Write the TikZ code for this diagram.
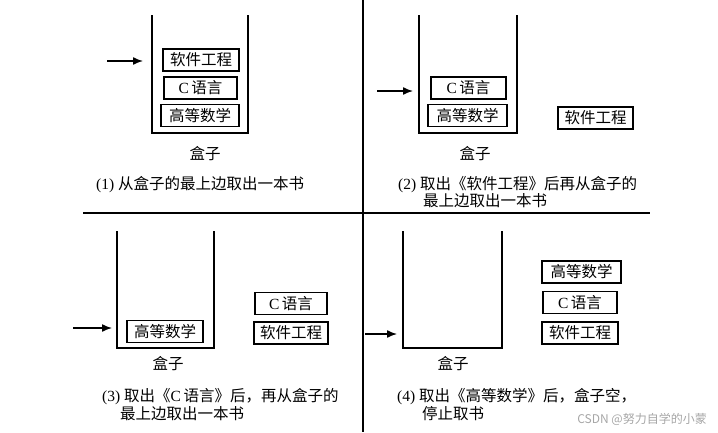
\documentclass[tikz,border=0pt]{standalone}
\usepackage{fontspec}
\setmainfont{Liberation Serif}
\newfontfamily\cjk{Noto Sans CJK SC}
\usetikzlibrary{arrows.meta, positioning}

\begin{document}
\begin{tikzpicture}[
		x=1pt, y=-1pt,
		every node/.style={font=\fontsize{15.5}{15.5}\selectfont},
		book/.style={draw, line width=1.8pt, minimum width=76pt, minimum height=22pt, inner sep=0pt},
		boxline/.style={line width=1.3pt},
		divider/.style={line width=1.7pt},
		pointer/.style={-{Latex[length=10pt, width=8pt]}, line width=1.4pt},
		caption/.style={anchor=west, inner sep=0pt},
		boxname/.style={inner sep=0pt}
	]
	\useasboundingbox (0,0) rectangle (718,432);
	% dividers
	\draw[divider] (83,213) -- (650,213);
	\draw[line width=1.4pt] (363,0) -- (363,432);

	% (1)
	\draw[boxline] (152,15) |- (248,133) -- (248,15);
	\node[book] (se1) at (201,60) {\cjk 软件工程};
	\node[book, line width=2.6pt, minimum width=73pt] (cl1) at (200.5,88) {C\,{\cjk 语言}};
	\node[book, minimum width=78pt] (ma1) at (200,115.5) {\cjk 高等数学};
	\coordinate (p1) at (107,61);
	\coordinate (q1) at (143,61);
	\draw[pointer] (p1) -- (q1);
	\node[boxname] (b1) at (205,154) {\cjk 盒子};
	\node[caption] (t1) at (96,185) {(1)~{\cjk 从盒子的最上边取出一本书}};

	% (2)
	\draw[boxline] (419,15) |- (517,133) -- (517,15);
	\node[book, minimum width=75pt] (cl2) at (468.5,88) {C\,{\cjk 语言}};
	\node[book, minimum width=79pt] (ma2) at (467.5,115.5) {\cjk 高等数学};
	\node[book, minimum width=75pt] (se2) at (595.5,118) {\cjk 软件工程};
	\coordinate (p2) at (377,91);
	\coordinate (q2) at (413,91);
	\draw[pointer] (p2) -- (q2);
	\node[boxname] (b2) at (475,154) {\cjk 盒子};
	\node[caption] (t2) at (398,184.5) {(2)~{\cjk 取出《软件工程》后再从盒子的}};
	\node[caption] (t2b) at (423,201) {\cjk 最上边取出一本书};

	% (3)
	\draw[boxline] (117,231) |- (214,348) -- (214,231);
	\node[book] (ma3) at (165,331.5) {\cjk 高等数学};
	\node[book, minimum width=72pt] (cl3) at (291,303.5) {C\,{\cjk 语言}};
	\node[book, minimum width=74pt] (se3) at (291,333) {\cjk 软件工程};
	\coordinate (p3) at (73,328);
	\coordinate (q3) at (112,328);
	\draw[pointer] (p3) -- (q3);
	\node[boxname] (b3) at (168,364) {\cjk 盒子};
	\node[caption] (t3) at (102,397) {(3)~{\cjk 取出《}C\,{\cjk 语言》后，再从盒子的}};
	\node[caption] (t3b) at (120,414) {\cjk 最上边取出一本书};

	% (4)
	\draw[boxline] (403,231) |- (502,348) -- (502,231);
	\node[book, minimum width=79pt] (ma4) at (581.5,272) {\cjk 高等数学};
	\node[book, minimum width=74pt] (cl4) at (580,302.5) {C\,{\cjk 语言}};
	\node[book] (se4) at (580,333) {\cjk 软件工程};
	\coordinate (p4) at (365,334);
	\coordinate (q4) at (397,334);
	\draw[pointer] (p4) -- (q4);
	\node[boxname] (b4) at (453,364) {\cjk 盒子};
	\node[caption] (t4) at (397,397) {(4)~{\cjk 取出《高等数学》后，盒子空，}};
	\node[caption] (t4b) at (422,414) {\cjk 停止取书};

	\node[anchor=east, inner sep=0pt, text=black!35, font=\cjk\fontsize{12}{12}\selectfont] (wm) at (707,419) {CSDN @努力自学的小蒙};
\end{tikzpicture}
\end{document}
